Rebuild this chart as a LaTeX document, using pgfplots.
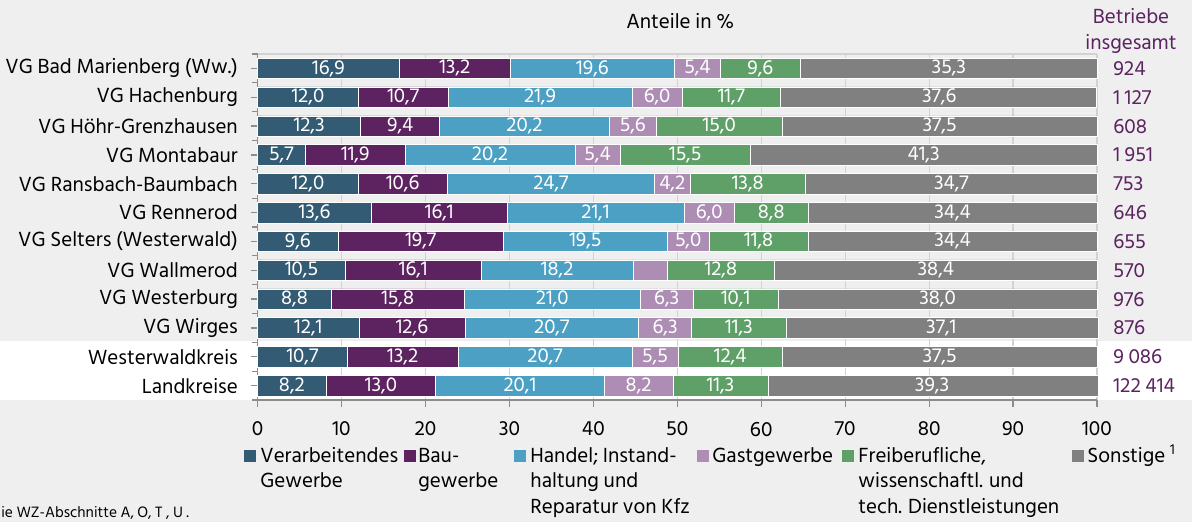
\documentclass[border=0pt]{standalone}
\usepackage{pgfplots}
\pgfplotsset{compat=1.18}
\usepackage{pgfplotstable}
\usepackage{fontspec}
\setmainfont{Hind Siliguri}

\definecolor{bg}{HTML}{EEEFEE}
\definecolor{cVG}{HTML}{335B73}
\definecolor{cBau}{HTML}{5C2360}
\definecolor{cHandel}{HTML}{4BA0C3}
\definecolor{cGast}{HTML}{AE8DB5}
\definecolor{cFrei}{HTML}{5FA068}
\definecolor{cSonst}{HTML}{808080}
\definecolor{purp}{HTML}{5C2360}
\definecolor{gridgray}{HTML}{D2D2D2}
\definecolor{axgray}{HTML}{8C8C8C}

% Anteile in %, Zeilen von oben nach unten
\pgfplotstableread{
row vg   bau  handel gast frei sonst
0   16.9 13.2 19.6   5.4  9.6  35.3
1   12.0 10.7 21.9   6.0  11.7 37.6
2   12.3 9.4  20.2   5.6  15.0 37.5
3   5.7  11.9 20.2   5.4  15.5 41.3
4   12.0 10.6 24.7   4.2  13.8 34.7
5   13.6 16.1 21.1   6.0  8.8  34.4
6   9.6  19.7 19.5   5.0  11.8 34.4
7   10.5 16.1 18.2   4.0  12.8 38.4
8   8.8  15.8 21.0   6.3  10.1 38.0
9   12.1 12.6 20.7   6.3  11.3 37.1
10  10.7 13.2 20.7   5.5  12.4 37.5
11  8.2  13.0 20.1   8.2  11.3 39.3
}\anteile

\newcommand\ltwo[2]{\vtop{\hbox{#1}\hbox{#2}}}
\newcommand\lthree[3]{\vtop{\hbox{#1}\hbox{#2}\hbox{#3}}}
\newcommand\ts{\hspace{0.22em}}

\tikzset{
  lgtext/.style={anchor=base west, inner sep=0pt, font=\fontsize{10.5}{12.6}\selectfont},
  num/.style={anchor=west, inner sep=0pt, text=purp, font=\fontsize{10.5}{12}\selectfont},
}
\pgfplotsset{
  frame/.style={at={(128.75pt,61pt)}, anchor=south west,
    scale only axis, width=419.75pt, height=173pt,
    xmin=0, xmax=100, ymin=-0.5, ymax=11.5, y dir=reverse, clip=false},
  lbl/.style={draw=none, mark=none, point meta=explicit,
    nodes near coords={\pgfmathprintnumber[fixed,fixed zerofill,precision=1,use comma,assume math mode=true]{\pgfplotspointmeta}},
    every node near coord/.style={anchor=center, inner sep=0pt, text=white, font=\fontsize{10.3}{12}\selectfont}},
}

\begin{document}
\begin{tikzpicture}
\useasboundingbox (0,0) rectangle (596pt,261pt);
\fill[bg] (0,0) rectangle (596pt,261pt);
\fill[white] (0,61pt) rectangle (596pt,90.5pt);

\begin{axis}[
  frame,
  xbar stacked, bar width=10.25pt,
  axis x line*=bottom, axis y line*=left,
  axis line style={draw=axgray, line width=0.8pt},
  tick align=outside,
  major tick length=3.5pt, minor tick length=3pt,
  xtick={0,10,...,100},
  ytick={0,...,11},
  minor ytick={-0.5,0.5,...,11.5},
  ytick style={draw=axgray, line width=0.6pt},
  xtick style={draw=axgray, line width=0.6pt},
  yticklabels={VG Bad Marienberg (Ww.),VG Hachenburg,VG Höhr-Grenzhausen,VG Montabaur,VG Ransbach-Baumbach,VG Rennerod,VG Selters (Westerwald),VG Wallmerod,VG Westerburg,VG Wirges,Westerwaldkreis,Landkreise},
  ticklabel style={font=\fontsize{10.5}{12}\selectfont, text=black},
  yticklabel style={xshift=-2.8pt},
  xticklabel style={yshift=-4pt},
  /pgf/number format/assume math mode=true,
  xmajorgrids, major grid style={gridgray, line width=0.6pt},
  title={Anteile in \%},
  title style={at={(axis description cs:0.5,1)}, anchor=base, yshift=6.5pt, xshift=1.5pt, font=\fontsize{10.5}{12}\selectfont},
]
\addplot[fill=cVG, draw=white, line width=0.3pt] table[x=vg, y=row] {\anteile};
\addplot[fill=cBau, draw=white, line width=0.3pt] table[x=bau, y=row] {\anteile};
\addplot[fill=cHandel, draw=white, line width=0.3pt] table[x=handel, y=row] {\anteile};
\addplot[fill=cGast, draw=white, line width=0.3pt] table[x=gast, y=row] {\anteile};
\addplot[fill=cFrei, draw=white, line width=0.3pt] table[x=frei, y=row] {\anteile};
\addplot[fill=cSonst, draw=white, line width=0.3pt] table[x=sonst, y=row] {\anteile};

\draw[gridgray, line width=0.6pt] (axis description cs:0,1) -- (axis description cs:1,1);

% Betriebe insgesamt
\node[num] at (axis cs:101.9,0) {924};
\node[num] at (axis cs:101.9,1) {1\ts127};
\node[num] at (axis cs:101.9,2) {608};
\node[num] at (axis cs:101.9,3) {1\ts951};
\node[num] at (axis cs:101.9,4) {753};
\node[num] at (axis cs:101.9,5) {646};
\node[num] at (axis cs:101.9,6) {655};
\node[num] at (axis cs:101.9,7) {570};
\node[num] at (axis cs:101.9,8) {976};
\node[num] at (axis cs:101.9,9) {876};
\node[num] at (axis cs:101.9,10) {9\ts086};
\node[num] at (axis cs:101.9,11) {122\ts414};
\end{axis}

% Werte in der Mitte der Segmente
\begin{axis}[frame, hide axis]
\addplot[lbl] table[x expr=\thisrow{vg}/2, y=row, meta=vg] {\anteile};
\addplot[lbl] table[x expr=\thisrow{vg}+\thisrow{bau}/2, y=row, meta=bau] {\anteile};
\addplot[lbl] table[x expr=\thisrow{vg}+\thisrow{bau}+\thisrow{handel}/2, y=row, meta=handel] {\anteile};
\addplot[lbl, skip coords between index={7}{8}] table[x expr=\thisrow{vg}+\thisrow{bau}+\thisrow{handel}+\thisrow{gast}/2, y=row, meta=gast] {\anteile};
\addplot[lbl] table[x expr=\thisrow{vg}+\thisrow{bau}+\thisrow{handel}+\thisrow{gast}+\thisrow{frei}/2, y=row, meta=frei] {\anteile};
\addplot[lbl] table[x expr=100-\thisrow{sonst}/2, y=row, meta=sonst] {\anteile};
\end{axis}

\node[anchor=base, text=purp, font=\fontsize{10.5}{12}\selectfont] at (565.5pt,249pt) {Betriebe};
\node[anchor=base, text=purp, font=\fontsize{10.5}{12}\selectfont] at (565.5pt,236pt) {insgesamt};

% Legende
\fill[cVG]    (122pt,29.8pt)  rectangle ++(6pt,6pt);
\fill[cBau]   (202pt,29.8pt)  rectangle ++(6pt,6pt);
\fill[cHandel](257pt,29.8pt)  rectangle ++(6pt,6pt);
\fill[cGast]  (348.5pt,29.8pt) rectangle ++(6pt,6pt);
\fill[cFrei]  (421pt,29.8pt)  rectangle ++(6pt,6pt);
\fill[cSonst] (536pt,29.8pt)  rectangle ++(6pt,6pt);
\node[lgtext] at (130pt,29.6pt) {\ltwo{Verarbeitendes}{Gewerbe}};
\node[lgtext] at (209pt,29.6pt) {\ltwo{Bau-}{gewerbe}};
\node[lgtext] at (265pt,29.6pt) {\lthree{Handel; Instand-}{haltung und}{Reparatur von Kfz}};
\node[lgtext] at (356pt,29.6pt) {Gastgewerbe};
\node[lgtext] at (429pt,29.6pt) {\lthree{Freiberufliche,}{wissenschaftl. und}{tech. Dienstleistungen}};
\node[lgtext] at (543.5pt,29.6pt) {Sonstige \textsuperscript{1}};

\node[anchor=base west, inner sep=0pt, font=\fontsize{7.7}{9}\selectfont] at (0.5pt,2.4pt) {ie WZ-Abschnitte A, O, T , U .};
\end{tikzpicture}
\end{document}
